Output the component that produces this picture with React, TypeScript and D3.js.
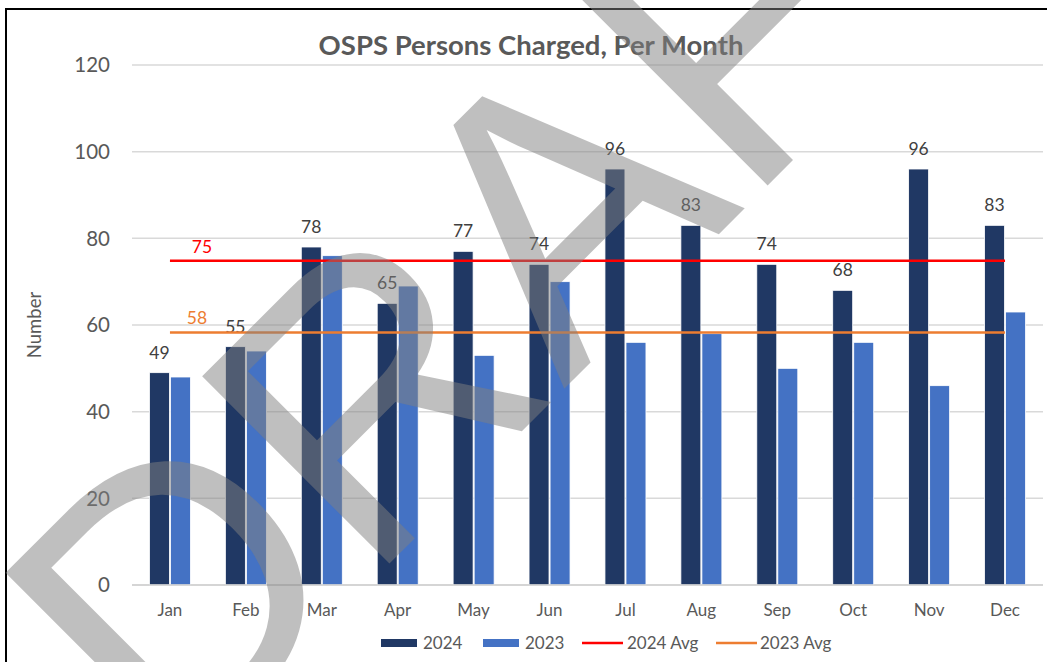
import * as d3 from "d3";

const months = ["Jan", "Feb", "Mar", "Apr", "May", "Jun", "Jul", "Aug", "Sep", "Oct", "Nov", "Dec"];
const values2024 = [49, 55, 78, 65, 77, 74, 96, 83, 74, 68, 96, 83];
const values2023 = [48, 54, 76, 69, 53, 70, 56, 58, 50, 56, 46, 63];
const seriesNames = ["2024", "2023"];
const yTicks = [0, 20, 40, 60, 80, 100, 120];

const COLOR_2024 = "#203864";
const COLOR_2023 = "#4472C4";
const COLOR_AVG_2024 = "#FF0000";
const COLOR_AVG_2023 = "#ED7D31";
const TEXT = "#595959";
const FONT = "Lato, 'Open Sans', sans-serif";

export default function App() {
  const width = 1047;
  const height = 662;
  const plot = { left: 132, right: 1043, top: 65, bottom: 585 };

  const x0 = d3.scaleBand<string>().domain(months).range([plot.left, plot.right]);
  const bw = x0.bandwidth();
  const x1 = d3
    .scaleBand<string>()
    .domain(seriesNames)
    .range([bw / 2 - 20.5, bw / 2 + 20.5])
    .paddingInner(0.05);
  const y = d3.scaleLinear().domain([0, 120]).range([plot.bottom, plot.top]);

  const avg2024 = d3.mean(values2024) ?? 0;
  const avg2023 = d3.mean(values2023) ?? 0;
  const firstX = (x0(months[0]) ?? 0) + bw / 2;
  const lastX = (x0(months[months.length - 1]) ?? 0) + bw / 2;

  const rows = months.map((m, i) => ({ month: m, v24: values2024[i], v23: values2023[i] }));

  return (
    <svg
      width={width}
      height={height}
      style={{ position: "absolute", left: 0, top: 0, background: "#fff" }}
      fontFamily={FONT}
    >
      <rect x={0} y={0} width={width} height={height} fill="#fff" />
      {/* chart frame */}
      <rect x={6} y={9} width={1060} height={680} fill="none" stroke="#000" strokeWidth={2} />

      <text x={531} y={55} textAnchor="middle" fontSize={27.5} fontWeight={700} fill={TEXT}>
        OSPS Persons Charged, Per Month
      </text>

      {/* gridlines + y ticks */}
      {yTicks.map((t) => (
        <g key={t}>
          <line x1={plot.left} x2={plot.right} y1={y(t)} y2={y(t)} stroke="#d9d9d9" strokeWidth={1.5} />
          <text x={110} y={y(t)} dy="0.36em" textAnchor="end" fontSize={20.5} fill={TEXT}>
            {t}
          </text>
        </g>
      ))}

      <text
        transform={`translate(41,${(plot.top + plot.bottom) / 2}) rotate(-90)`}
        textAnchor="middle"
        fontSize={18.5}
        fill={TEXT}
      >
        Number
      </text>

      {/* bars */}
      {rows.map((r) => {
        const gx = x0(r.month) ?? 0;
        return (
          <g key={r.month} transform={`translate(${gx},0)`}>
            <rect
              x={x1("2024")}
              y={y(r.v24)}
              width={x1.bandwidth()}
              height={y(0) - y(r.v24)}
              fill={COLOR_2024}
              stroke="#fff"
              strokeWidth={0.8}
            />
            <rect
              x={x1("2023")}
              y={y(r.v23)}
              width={x1.bandwidth()}
              height={y(0) - y(r.v23)}
              fill={COLOR_2023}
              stroke="#fff"
              strokeWidth={0.8}
            />
            <text
              x={(x1("2024") ?? 0) + x1.bandwidth() / 2}
              y={y(r.v24) - 14}
              textAnchor="middle"
              fontSize={17.5}
              fill="#404040"
            >
              {r.v24}
            </text>
            <text x={bw / 2} y={616} textAnchor="middle" fontSize={17} fill={TEXT}>
              {r.month}
            </text>
          </g>
        );
      })}

      {/* x axis line */}
      <line x1={plot.left} x2={plot.right} y1={y(0)} y2={y(0)} stroke="#d0d0d0" strokeWidth={1.5} />

      {/* average lines */}
      <line x1={firstX} x2={lastX} y1={y(avg2024)} y2={y(avg2024)} stroke={COLOR_AVG_2024} strokeWidth={2.5} />
      <line x1={firstX} x2={lastX} y1={y(avg2023)} y2={y(avg2023)} stroke={COLOR_AVG_2023} strokeWidth={2.5} />
      <text x={firstX + 32} y={y(avg2024) - 8} textAnchor="middle" fontSize={17.5} fill={COLOR_AVG_2024}>
        {Math.round(avg2024)}
      </text>
      <text x={firstX + 27} y={y(avg2023) - 9} textAnchor="middle" fontSize={17.5} fill={COLOR_AVG_2023}>
        {Math.round(avg2023)}
      </text>

      {/* legend */}
      <g fontSize={17} fill={TEXT}>
        <rect x={381} y={639} width={36} height={8} fill={COLOR_2024} />
        <text x={423} y={649}>2024</text>
        <rect x={483} y={639} width={36} height={8} fill={COLOR_2023} />
        <text x={525} y={649}>2023</text>
        <line x1={582} x2={623} y1={643} y2={643} stroke={COLOR_AVG_2024} strokeWidth={2.5} />
        <text x={627} y={649}>2024 Avg</text>
        <line x1={716} x2={757} y1={643} y2={643} stroke={COLOR_AVG_2023} strokeWidth={2.5} />
        <text x={760} y={649}>2023 Avg</text>
      </g>

      {/* DRAFT watermark */}
      <text
        transform="translate(170.5,782.5) rotate(-45)"
        fontFamily="'Liberation Sans', Arial, sans-serif"
        fontSize={385}
        fill="#808080"
        fillOpacity={0.5}
        style={{ pointerEvents: "none" }}
      >
        DRAFT
      </text>
    </svg>
  );
}
